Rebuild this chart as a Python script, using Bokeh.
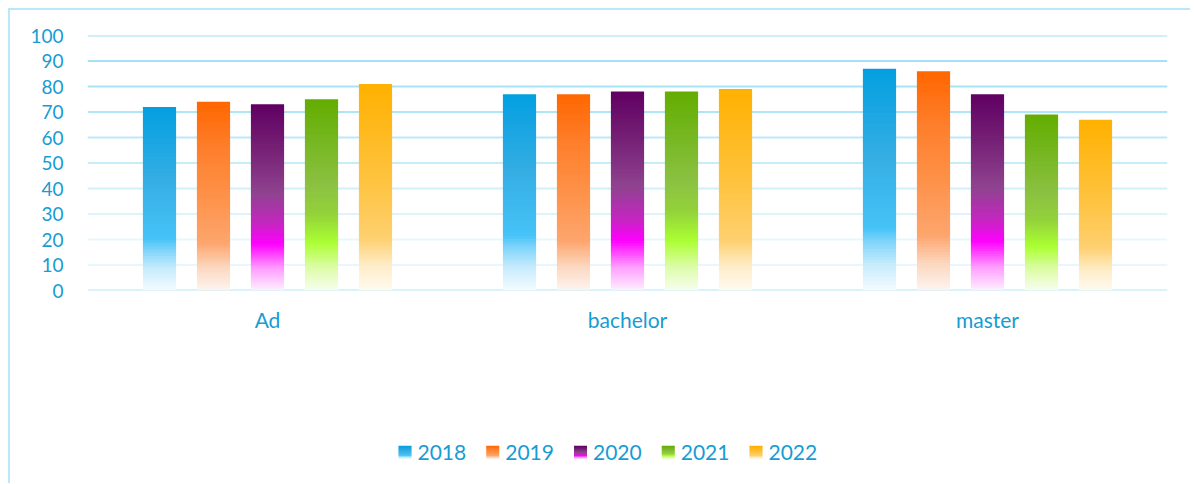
from bokeh.plotting import figure
from bokeh.models import FactorRange, Range1d, ColumnDataSource, Span, FixedTicker
from bokeh.transform import dodge
from bokeh.layouts import column
from bokeh.core.properties import value
from bokeh.embed import file_html
from bokeh.resources import INLINE

# ---------------- data ----------------
categories = ["Ad", "bachelor", "master"]
years = ["2018", "2019", "2020", "2021", "2022"]
v2018 = [72, 77, 87]
v2019 = [74, 77, 86]
v2020 = [73, 78, 77]
v2021 = [75, 78, 69]
v2022 = [81, 79, 67]
y_ticks = [0, 10, 20, 30, 40, 50, 60, 70, 80, 90, 100]

series = [v2018, v2019, v2020, v2021, v2022]

# ---------------- style ----------------
TXT = "#179cd3"
FONT = "Lato"
grid_colors = ["#b6e7f8", "#e8f7fd", "#e6f7fd", "#def4fc", "#d2f0fb", "#c6edfa",
               "#bbe9f9", "#aee5f8", "#a8e3f7", "#a6e2f7", "#a2e0f6"]
# gradient stops: (fraction from bottom, colour)
stops = {
    "2018": [(0.0, "#f4fbff"), (0.12, "#c6ebfc"), (0.22, "#7fd4fa"), (0.28, "#46c3f8"),
             (0.6, "#35aee4"), (1.0, "#039fe1")],
    "2019": [(0.0, "#fdf5f0"), (0.12, "#fcd8c0"), (0.25, "#fda66e"), (0.5, "#fe9149"),
             (0.75, "#fe7f2c"), (1.0, "#ff6600")],
    "2020": [(0.0, "#fdf0fd"), (0.12, "#ff9cff"), (0.25, "#ff00ff"), (0.36, "#c426c0"),
             (0.52, "#8f4390"), (0.75, "#772277"), (1.0, "#600062")],
    "2021": [(0.0, "#f7fdee"), (0.12, "#ddfca8"), (0.25, "#abff33"), (0.4, "#93d23a"),
             (0.55, "#8bc142"), (0.8, "#74b61e"), (1.0, "#63ad00")],
    "2022": [(0.0, "#fffaf0"), (0.12, "#feedc8"), (0.25, "#fed070"), (0.5, "#fec444"),
             (1.0, "#ffb100")],
}
offsets = [-0.3, -0.15, 0.0, 0.15, 0.3]
bar_w = 0.092
N = 80

W = 1180
BL, BR = 77, 23   # frame borders (px)


def hex2rgb(h):
    h = h.lstrip("#")
    return tuple(int(h[i:i + 2], 16) for i in (0, 2, 4))


def grad(st, f):
    for (f0, c0), (f1, c1) in zip(st[:-1], st[1:]):
        if f0 <= f <= f1:
            t = (f - f0) / (f1 - f0) if f1 > f0 else 0
            a, b = hex2rgb(c0), hex2rgb(c1)
            r = [round(a[i] + (b[i] - a[i]) * t) for i in range(3)]
            return "#%02x%02x%02x" % tuple(r)
    return st[-1][1]


# ---------------- main chart ----------------
p = figure(x_range=FactorRange(*categories, range_padding=0), y_range=Range1d(0, 100),
           width=W, height=335, output_backend="svg", toolbar_location=None,
           min_border_left=BL, min_border_right=BR, min_border_top=25, min_border_bottom=55)
p.outline_line_color = None
p.xgrid.grid_line_color = None
p.ygrid.grid_line_color = None

for t, c in zip(y_ticks, grid_colors):
    p.add_layout(Span(location=t, dimension="width", line_color=c, line_width=2.2, level="underlay"))

for j, yr in enumerate(years):
    cats, bots, tops, cols = [], [], [], []
    for cat, v in zip(categories, series[j]):
        for k in range(N):
            cats.append(cat)
            bots.append(v * k / N)
            tops.append(v * min(1.0, (k + 1.7) / N))
            cols.append(grad(stops[yr], (k + 0.5) / N))
    src = ColumnDataSource(dict(cat=cats, bottom=bots, top=tops, color=cols))
    p.vbar(x=dodge("cat", offsets[j], range=p.x_range), bottom="bottom", top="top",
           width=bar_w, fill_color="color", line_color=None, source=src)

for ax in (p.xaxis[0], p.yaxis[0]):
    ax.axis_line_color = None
    ax.major_tick_line_color = None
    ax.minor_tick_line_color = None
    ax.major_tick_out = 0
    ax.major_tick_in = 0
    ax.major_label_text_color = TXT
    ax.major_label_text_font = FONT
p.yaxis.major_label_text_font_size = "19px"
p.xaxis.major_label_text_font_size = "21px"
p.yaxis.ticker = FixedTicker(ticks=y_ticks)
p.yaxis.major_label_standoff = 24
p.xaxis.major_label_standoff = 16

# ---------------- legend (gradient squares) ----------------
LH = 138
leg = figure(x_range=Range1d(BL, W - BR), y_range=Range1d(LH, 0), width=W, height=LH,
             output_backend="svg", toolbar_location=None,
             min_border_left=BL, min_border_right=BR, min_border_top=0, min_border_bottom=0)
leg.axis.visible = False
leg.grid.visible = False
leg.outline_line_color = None

sq = 13
x_first, step, y_mid = 388, 87.75, 107
ql, qr, qt, qb, qc = [], [], [], [], []
tx, ty = [], []
for j, yr in enumerate(years):
    x0 = x_first + j * step
    for k in range(sq):
        ql.append(x0)
        qr.append(x0 + sq)
        yb = y_mid + sq / 2 - k
        qb.append(yb)
        qt.append(yb - 1.3)
        qc.append(grad(stops[yr], (k + 0.5) / sq))
    tx.append(x0 + 19)
    ty.append(y_mid)
leg.quad(left=ql, right=qr, top=qt, bottom=qb, fill_color=qc, line_color=None)
leg.text(x=tx, y=ty, text=years, text_font=value(FONT), text_font_size="21px",
         text_color=TXT, text_baseline="middle", text_align="left")

layout = column(p, leg, spacing=0,
                styles={"border-left": "2px solid #b8e8f9", "border-top": "2px solid #b8e8f9",
                        "margin-left": "8px", "margin-top": "8px"})

open("out.html", "w").write(file_html(layout, INLINE))
